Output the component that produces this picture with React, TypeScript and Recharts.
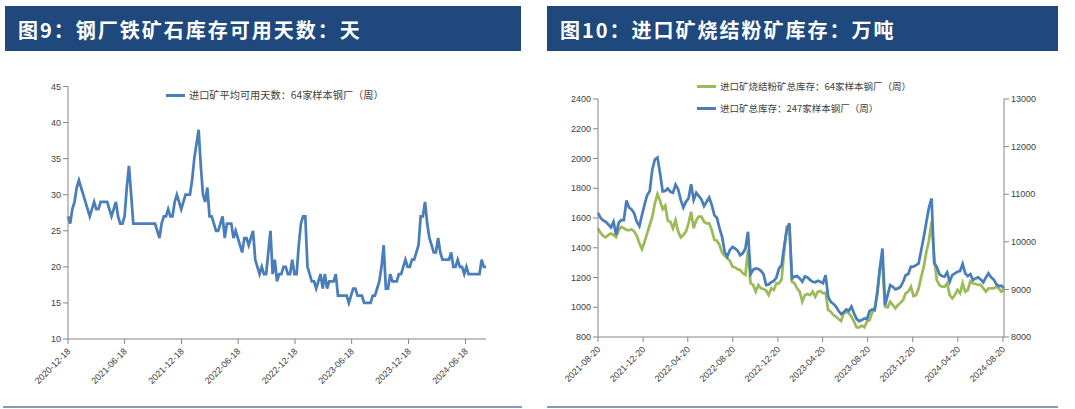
import React from "react";
import { LineChart, Line, XAxis, YAxis, Legend } from "recharts";

const FONT = '"Liberation Sans", "Noto Sans CJK SC", sans-serif';
const CJK = '"Noto Sans CJK SC", sans-serif';
const BLUE = "#4A7EBB";
const GREEN = "#9BBB59";
const AXIS = "#868686";
const TEXT = "#404040";
const HEADER = "#1F497D";

// 图9: weekly, starting 2020-12-18
const daysStart = "2020-12-18";
const daysValues = [
  27, 26, 28, 29, 31, 32, 31, 30, 29, 28,
  27, 28, 29, 28, 28, 29, 29, 29, 29, 28,
  27, 28, 29, 27, 26, 26, 27, 31, 34, 30,
  26, 26, 26, 26, 26, 26, 26, 26, 26, 26,
  26, 25, 24, 26, 27, 27, 28, 27, 27, 29,
  30, 29, 28, 29, 30, 30, 30, 32, 35, 37,
  39, 34, 30, 29, 31, 27, 27, 26, 25, 25,
  26, 27, 24, 26, 26, 26, 24, 25, 24, 23,
  22, 24, 24, 23, 24, 25, 21, 20, 19, 20,
  19, 19, 22, 25, 19, 21, 18, 19, 19, 20,
  20, 19, 19, 21, 19, 19, 23, 26, 27, 27,
  20, 19, 18, 18, 17, 18, 19, 17, 19, 17,
  18, 18, 18, 19, 16, 16, 16, 16, 16, 15,
  16, 17, 17, 16, 16, 16, 15, 15, 15, 15,
  16, 16, 17, 18, 20, 23, 17, 17, 19, 18,
  18, 18, 19, 19, 20, 21, 20, 20, 21, 21,
  22, 23, 27, 27, 29, 26, 24, 23, 22, 22,
  24, 22, 21, 21, 21, 21, 22, 20, 20, 21,
  20, 20, 19, 20, 19, 19, 19, 19, 19, 19,
  21, 20, 20,
];
const daysTicks = [
  "2020-12-18", "2021-06-18", "2021-12-18", "2022-06-18",
  "2022-12-18", "2023-06-18", "2023-12-18", "2024-06-18",
];
const daysAxis = [10, 15, 20, 25, 30, 35, 40, 45];

// 图10: weekly, starting 2021-08-20
const stockStart = "2021-08-20";
const sinterValues = [
  1530, 1500, 1480, 1470, 1486, 1495, 1486, 1472, 1519, 1540,
  1532, 1520, 1519, 1523, 1510, 1480, 1430, 1390, 1440, 1497,
  1553, 1609, 1698, 1761, 1716, 1660, 1683, 1582, 1575, 1530,
  1586, 1508, 1470, 1486, 1508, 1564, 1642, 1530, 1586, 1609,
  1609, 1575, 1564, 1564, 1519, 1452, 1447, 1418, 1367, 1345,
  1329, 1313, 1273, 1268, 1255, 1250, 1228, 1217, 1385, 1161,
  1150, 1105, 1150, 1127, 1123, 1112, 1082, 1127, 1116, 1161,
  1161, 1188, 1374, 1542, 1546, 1172, 1161, 1127, 1105, 1038,
  1082, 1089, 1082, 1105, 1071, 1105, 1109, 1094, 1098, 982,
  970, 948, 937, 921, 908, 959, 970, 959, 937, 903,
  865, 865, 876, 865, 903, 914, 964, 986, 1080, 1260,
  1290, 1004, 999, 1038, 1015, 993, 1015, 1031, 1049, 1094,
  1105, 1138, 1076, 1082, 1127, 1206, 1273, 1374, 1450, 1575,
  1340, 1183, 1150, 1138, 1138, 1161, 1082, 1060, 1082, 1116,
  1094, 1161, 1105, 1116, 1176, 1161, 1156, 1150, 1150, 1127,
  1105, 1127, 1127, 1127, 1138, 1127, 1105, 1116,
];
const totalValues = [
  10610, 10500, 10450, 10420, 10365, 10300, 10420, 10150, 10400, 10455,
  10455, 10870, 10720, 10680, 10600, 10420, 10330, 10560, 10780, 10980,
  11060, 11520, 11730, 11770, 11440, 11060, 11070, 11120, 11050, 11030,
  11200, 11100, 10880, 10720, 10840, 10910, 11210, 10880, 11030, 10960,
  10890, 10750, 10840, 10930, 10770, 10560, 10500, 10280, 10100, 9790,
  9690, 9830, 9890, 9860, 9810, 9720, 9760, 9860, 10210, 9320,
  9410, 9440, 9430, 9390, 9320, 9090, 9105, 9150, 9180, 9250,
  9440, 9510, 9900, 10250, 10390, 9230, 9270, 9280, 9230, 9160,
  9270, 9250, 9200, 9160, 9150, 9180, 9160, 9130, 9300, 8850,
  8740, 8700, 8640, 8550, 8480, 8520, 8580, 8550, 8640, 8500,
  8380, 8335, 8356, 8390, 8377, 8545, 8580, 8566, 8950, 9450,
  9860, 8670, 8880, 9090, 9056, 9000, 9021, 9056, 9160, 9300,
  9322, 9476, 9476, 9511, 9546, 9826, 10106, 10421, 10722, 10910,
  9546, 9476, 9322, 9280, 9266, 9357, 9161, 9301, 9336, 9371,
  9385, 9532, 9336, 9280, 9322, 9196, 9231, 9252, 9210, 9147,
  9252, 9336, 9252, 9210, 9112, 9070, 9077, 9021,
];
const stockTicks = [
  "2021-08-20", "2021-12-20", "2022-04-20", "2022-08-20", "2022-12-20",
  "2023-04-20", "2023-08-20", "2023-12-20", "2024-04-20", "2024-08-20",
];
const sinterAxis = [800, 1000, 1200, 1400, 1600, 1800, 2000, 2200, 2400];
const totalAxis = [8000, 9000, 10000, 11000, 12000, 13000];

const DAY = 86400000;
const toTime = (s: string) => {
  const [y, m, d] = s.split("-").map(Number);
  return Date.UTC(y, m - 1, d);
};
const fmt = (t: number) => new Date(t).toISOString().slice(0, 10);
const weekly = (start: string, n: number) =>
  Array.from({ length: n }, (_, i) => toTime(start) + i * 7 * DAY);

const daysData = weekly(daysStart, daysValues.length).map((t, i) => ({
  t,
  days: daysValues[i],
}));
const stockData = weekly(stockStart, sinterValues.length).map((t, i) => ({
  t,
  sinter: sinterValues[i],
  total: totalValues[i],
}));

const DateTick = (props: any) => {
  const { x, y, payload } = props;
  const px = x + 3;
  const py = y + 6;
  return (
    <text
      x={px}
      y={py}
      transform={`rotate(-45, ${px}, ${py})`}
      textAnchor="end"
      fontSize={9}
      fill={TEXT}
      fontFamily={FONT}
    >
      {fmt(payload.value)}
    </text>
  );
};

const LegendBox = (props: any) => (
  <div>
    {(props.payload || []).map((p: any) => (
      <div
        key={p.value}
        style={{ display: "flex", alignItems: "center", height: 22 }}
      >
        <span
          style={{
            display: "inline-block",
            width: 19,
            borderTop: `3px solid ${p.color}`,
            marginRight: 4,
          }}
        />
        <span
          style={{
            fontSize: props.size || 9.5,
            color: TEXT,
            fontFamily: CJK,
            whiteSpace: "nowrap",
            lineHeight: "22px",
          }}
        >
          {p.value}
        </span>
      </div>
    ))}
  </div>
);

const Header = ({ left, width, title }: { left: number; width: number; title: string }) => (
  <div
    style={{
      position: "absolute",
      left,
      top: 6,
      width,
      height: 45,
      background: HEADER,
      color: "#fff",
      fontFamily: CJK,
      fontWeight: 700,
      fontSize: 20,
      letterSpacing: 2,
      lineHeight: "47px",
      paddingLeft: 13,
      boxSizing: "border-box",
      whiteSpace: "nowrap",
    }}
  >
    {title}
  </div>
);

const Rule = ({ left, width }: { left: number; width: number }) => (
  <div
    style={{
      position: "absolute",
      left,
      top: 406,
      width,
      height: 2,
      background: "#7F9CC4",
    }}
  />
);

const tickStyle = { fontSize: 9, fill: TEXT, fontFamily: FONT };

export default function App() {
  return (
    <div
      style={{
        position: "absolute",
        left: 0,
        top: 0,
        width: 1075,
        height: 409,
        background: "#fff",
        overflow: "hidden",
      }}
    >
      <Header left={5} width={516} title="图9：钢厂铁矿石库存可用天数：天" />
      <Header left={547} width={511} title="图10：进口矿烧结粉矿库存：万吨" />

      <div style={{ position: "absolute", left: 0, top: 0 }}>
        <LineChart
          width={522}
          height={400}
          data={daysData}
          margin={{ top: 86.5, right: 36, bottom: 11, left: 0 }}
        >
          <XAxis
            dataKey="t"
            type="number"
            domain={["dataMin", "dataMax"]}
            ticks={daysTicks.map(toTime)}
            interval={0}
            height={50}
            tick={<DateTick />}
            tickSize={5}
            tickMargin={2}
            axisLine={{ stroke: AXIS }}
            tickLine={{ stroke: AXIS }}
          />
          <YAxis
            domain={[10, 45]}
            ticks={daysAxis}
            interval={0}
            width={68}
            tickSize={5}
            tickMargin={2}
            tick={tickStyle}
            axisLine={{ stroke: AXIS }}
            tickLine={{ stroke: AXIS }}
          />
          <Legend
            layout="vertical"
            align="center"
            verticalAlign="middle"
            wrapperStyle={{ top: 84, left: 166, width: "auto" }}
            content={<LegendBox size={10.2} />}
          />
          <Line
            type="linear"
            dataKey="days"
            name="进口矿平均可用天数：64家样本钢厂（周）"
            stroke={BLUE}
            strokeWidth={2.75}
            dot={false}
            isAnimationActive={false}
          />
        </LineChart>
      </div>

      <div style={{ position: "absolute", left: 547, top: 0 }}>
        <LineChart
          width={513}
          height={400}
          data={stockData}
          margin={{ top: 99, right: 6, bottom: 13, left: 0 }}
        >
          <XAxis
            dataKey="t"
            type="number"
            domain={["dataMin", "dataMax"]}
            ticks={stockTicks.map(toTime)}
            interval={0}
            height={50}
            tick={<DateTick />}
            tickSize={5}
            tickMargin={2}
            axisLine={{ stroke: AXIS }}
            tickLine={{ stroke: AXIS }}
          />
          <YAxis
            yAxisId="l"
            domain={[800, 2400]}
            ticks={sinterAxis}
            interval={0}
            width={51}
            tickSize={5}
            tickMargin={2}
            tick={tickStyle}
            axisLine={{ stroke: AXIS }}
            tickLine={{ stroke: AXIS }}
          />
          <YAxis
            yAxisId="r"
            orientation="right"
            domain={[8000, 13000]}
            ticks={totalAxis}
            interval={0}
            width={50}
            tickSize={5}
            tickMargin={2}
            tick={tickStyle}
            axisLine={{ stroke: AXIS }}
            tickLine={{ stroke: AXIS }}
          />
          <Legend
            layout="vertical"
            align="center"
            verticalAlign="middle"
            itemSorter="dataKey"
            wrapperStyle={{ top: 75, left: 150, width: "auto" }}
            content={<LegendBox size={9.5} />}
          />
          <Line
            yAxisId="l"
            type="linear"
            dataKey="sinter"
            name="进口矿烧结粉矿总库存：64家样本钢厂（周）"
            stroke={GREEN}
            strokeWidth={2.75}
            dot={false}
            isAnimationActive={false}
          />
          <Line
            yAxisId="r"
            type="linear"
            dataKey="total"
            name="进口矿总库存：247家样本钢厂（周）"
            stroke={BLUE}
            strokeWidth={2.75}
            dot={false}
            isAnimationActive={false}
          />
        </LineChart>
      </div>

      <Rule left={3} width={519} />
      <Rule left={547} width={511} />
    </div>
  );
}
